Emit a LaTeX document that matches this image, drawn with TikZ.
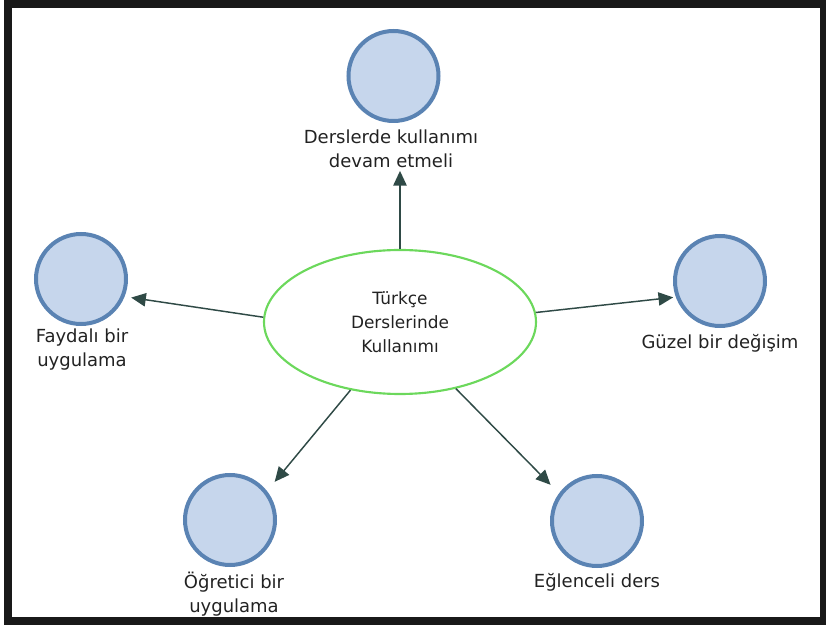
\documentclass[tikz,border=0pt]{standalone}
\usepackage{fontspec}
\setmainfont{DejaVu Sans}
\usetikzlibrary{arrows.meta,shapes.geometric}
\definecolor{bubfill}{HTML}{C6D6EC}
\definecolor{bubline}{HTML}{5A83B3}
\definecolor{ellline}{HTML}{6CD85C}
\definecolor{arrcol}{HTML}{2F4A46}
\definecolor{txt}{HTML}{222222}
\tikzset{
  bub/.style={circle,draw=bubline,fill=bubfill,line width=3pt,minimum size=67.5pt,inner sep=0pt},
  lbl/.style={font=\fontsize{13.5}{18}\selectfont,text=txt,align=center,inner sep=0pt},
  hub/.style={ellipse,draw=ellline,line width=1.6pt,minimum width=204pt,minimum height=108pt,inner sep=0pt,
    font=\fontsize{12.7}{18}\selectfont,text=txt,align=center},
  arr/.style={draw=arrcol,line width=1.1pt,-{Triangle[length=11pt,width=10pt]}},
  frame/.style={draw=black!90,line width=6pt}
}
\begin{document}
\begin{tikzpicture}[x=0.75pt,y=-0.75pt]
\useasboundingbox (0,0) rectangle (826,627);
\draw[frame] (8,4) rectangle (824,621);
\node[hub] (c) at (400,322) {Türkçe\\Derslerinde\\Kullanımı};
\node[bub] (t) at (393.5,76) {};
\node[lbl] (tl) at (391,149) {Derslerde kullanımı\\devam etmeli};
\node[bub] (r) at (720,281) {};
\node[lbl] (rl) at (720,343) {Güzel bir değişim};
\node[bub] (l) at (81,279) {};
\node[lbl] (ll) at (82,350) {Faydalı bir\\uygulama};
\node[bub] (bl) at (230,520) {};
\node[lbl] (bll) at (234,594) {Öğretici bir\\uygulama};
\node[bub] (br) at (597,521) {};
\node[lbl] (brl) at (597,582) {Eğlenceli ders};
\draw[arr,shorten >=2pt] (c.north) -- (c.north |- tl.south);
\draw[arr,shorten >=2pt] (c.4) -- (r.200);
\draw[arr,shorten >=5pt] (c.178) -- (l.-22);
\draw[arr,shorten >=9pt] (c.234) -- (bl.38);
\draw[arr,shorten >=9pt] (c.-50) -- (br.144);
\end{tikzpicture}
\end{document}
